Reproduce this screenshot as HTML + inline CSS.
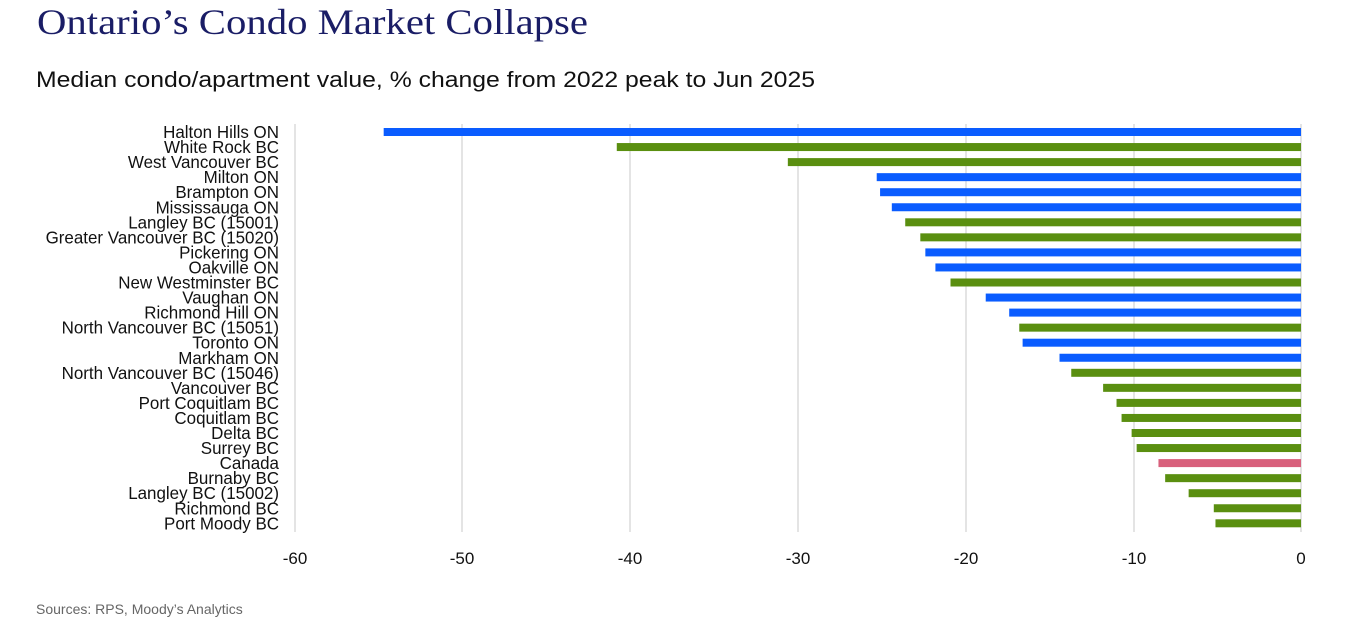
<!DOCTYPE html>
<html><head><meta charset="utf-8"><style>
body{margin:0;background:#fff;}
svg{display:block;}
</style></head><body>
<svg width="1360" height="632" xmlns="http://www.w3.org/2000/svg">
<rect width="1360" height="632" fill="#fff"/>
<text x="37" y="34" font-family="Liberation Serif, serif" font-size="36" fill="#1a1d66" textLength="551" lengthAdjust="spacingAndGlyphs">Ontario’s Condo Market Collapse</text>
<text x="36" y="87" font-family="Liberation Sans, sans-serif" font-size="22" fill="#111" textLength="779" lengthAdjust="spacingAndGlyphs">Median condo/apartment value, % change from 2022 peak to Jun 2025</text>
<g stroke="#dcdcdc" stroke-width="1.5">
<line x1="295" y1="124" x2="295" y2="532"/><line x1="462" y1="124" x2="462" y2="532"/><line x1="630" y1="124" x2="630" y2="532"/><line x1="798" y1="124" x2="798" y2="532"/><line x1="966" y1="124" x2="966" y2="532"/><line x1="1134" y1="124" x2="1134" y2="532"/><line x1="1301" y1="124" x2="1301" y2="532"/>
</g>
<g id="bars"></g>
<g font-family="Liberation Sans, sans-serif" font-size="17" fill="#111" text-anchor="middle">
<text x="295" y="564">-60</text><text x="462" y="564">-50</text><text x="630" y="564">-40</text><text x="798" y="564">-30</text><text x="966" y="564">-20</text><text x="1134" y="564">-10</text><text x="1301" y="564">0</text>
</g>
<text x="36" y="614" font-family="Liberation Sans, sans-serif" font-size="14" fill="#666">Sources: RPS, Moody’s Analytics</text>
<g id="labels" font-family="Liberation Sans, sans-serif" font-size="17.5" fill="#111" text-anchor="end"></g>
</svg>
<script>
var d=[["Halton Hills ON",-54.7,"b"],["White Rock BC",-40.8,"g"],["West Vancouver BC",-30.6,"g"],["Milton ON",-25.3,"b"],["Brampton ON",-25.1,"b"],["Mississauga ON",-24.4,"b"],["Langley BC (15001)",-23.6,"g"],["Greater Vancouver BC (15020)",-22.7,"g"],["Pickering ON",-22.4,"b"],["Oakville ON",-21.8,"b"],["New Westminster BC",-20.9,"g"],["Vaughan ON",-18.8,"b"],["Richmond Hill ON",-17.4,"b"],["North Vancouver BC (15051)",-16.8,"g"],["Toronto ON",-16.6,"b"],["Markham ON",-14.4,"b"],["North Vancouver BC (15046)",-13.7,"g"],["Vancouver BC",-11.8,"g"],["Port Coquitlam BC",-11.0,"g"],["Coquitlam BC",-10.7,"g"],["Delta BC",-10.1,"g"],["Surrey BC",-9.8,"g"],["Canada",-8.5,"p"],["Burnaby BC",-8.1,"g"],["Langley BC (15002)",-6.7,"g"],["Richmond BC",-5.2,"g"],["Port Moody BC",-5.1,"g"]];
var col={b:"#0a5cff",g:"#5a8f10",p:"#d8607c"};
var ns="http://www.w3.org/2000/svg",B=document.getElementById("bars"),L=document.getElementById("labels");
d.forEach(function(r,i){var y=132+i*15.05;var x=1301+r[1]*16.77;
var re=document.createElementNS(ns,"rect");re.setAttribute("x",x);re.setAttribute("y",y-4);re.setAttribute("width",1301-x);re.setAttribute("height",8);re.setAttribute("fill",col[r[2]]);B.appendChild(re);
var t=document.createElementNS(ns,"text");t.setAttribute("x",0);t.setAttribute("y",0);t.setAttribute("transform","translate(279,"+(y+6)+") scale(0.97,1)");t.textContent=r[0];L.appendChild(t);});
</script>
</body></html>
